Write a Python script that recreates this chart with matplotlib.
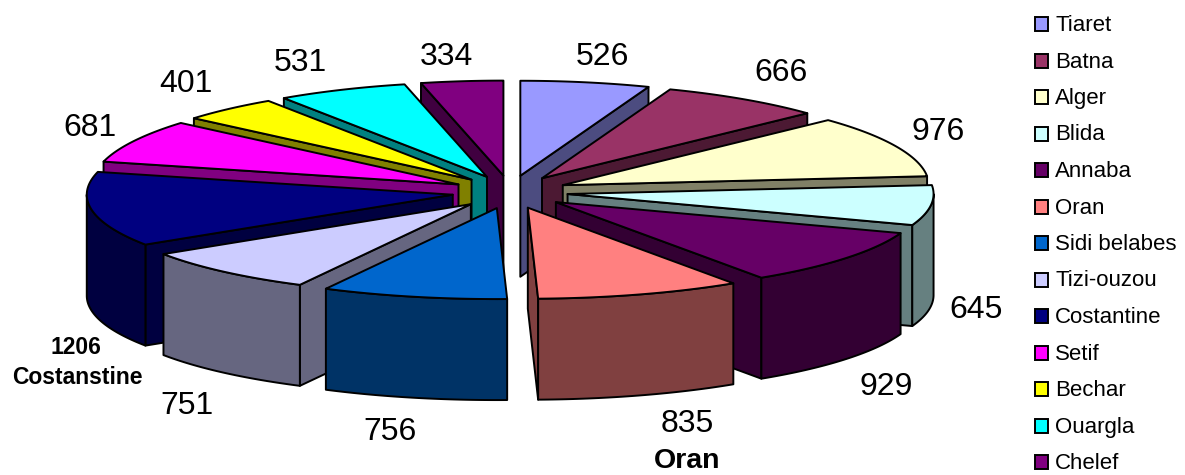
#!/usr/bin/env python
import numpy as np
import matplotlib
matplotlib.use("Agg")
import matplotlib.pyplot as plt

plt.rcParams["font.family"] = ["Liberation Sans", "DejaVu Sans"]

cities = ["Tiaret", "Batna", "Alger", "Blida", "Annaba", "Oran", "Sidi belabes",
          "Tizi-ouzou", "Costantine", "Setif", "Bechar", "Ouargla", "Chelef"]
values = [526, 666, 976, 645, 929, 835, 756, 751, 1206, 681, 401, 531, 334]
top_colors = ["#9999FF", "#993366", "#FFFFCC", "#CCFFFF", "#660066", "#FF8080", "#0066CC",
              "#CCCCFF", "#000080", "#FF00FF", "#FFFF00", "#00FFFF", "#800080"]
side_colors = ["#4C4C80", "#4C1933", "#808066", "#668080", "#330033", "#804040", "#003366",
               "#666680", "#000040", "#800080", "#808000", "#008080", "#400040"]
label_pos = [(602, 57), (781, 73), (938, 132), (976, 310), (886, 387), (687, 424), (390, 432),
             (187, 406), None, (90, 128), (186, 84), (300, 63), (446, 57)]

CX, CY = 510, 192     # pie centre in pixels
RX, RY = 366, 93      # top face ellipse
RY_TILT = 2           # back of the ellipse a bit taller than the front
EX, EY = 58, 16.5     # explosion
DEPTH = 101
EDGE = dict(edgecolor="black", linewidth=1.4, joinstyle="round")

fig = plt.figure(figsize=(11.85, 4.75), dpi=100)
ax = fig.add_axes([0, 0, 1, 1])
ax.set_xlim(0, 1185)
ax.set_ylim(475, 0)
ax.axis("off")

#----------------------------------------------------------------------
# Exploded 3D pie, painted from the back to the front
#----------------------------------------------------------------------
ends = np.cumsum(values) / np.sum(values) * 2 * np.pi
starts = np.concatenate(([0], ends[:-1]))
mids = (starts + ends) / 2


def rim(tip, a):
    return tip[0] + RX * np.sin(a), tip[1] - (RY + RY_TILT * np.cos(a)) * np.cos(a)


def draw_wall(tip, a, color):
    rx, ry = rim(tip, a)
    ax.fill([tip[0], rx, rx, tip[0]], [tip[1], ry, ry + DEPTH, tip[1] + DEPTH],
            facecolor=color, **EDGE)


for i in np.argsort(-np.cos(mids)):
    a1, a2 = starts[i], ends[i]
    tip = (CX + EX * np.sin(mids[i]), CY - EY * np.cos(mids[i]))

    # cut faces that look towards the viewer
    if np.sin(a1) < -1e-6:
        draw_wall(tip, a1, side_colors[i])
    if np.sin(a2) > 1e-6:
        draw_wall(tip, a2, side_colors[i])

    # outer wall, front half of the ellipse only
    lo, hi = max(a1, np.pi / 2), min(a2, 3 * np.pi / 2)
    if lo < hi:
        t = np.linspace(lo, hi, 60)
        x, y = rim(tip, t)
        ax.fill(np.concatenate((x, x[::-1])), np.concatenate((y, y[::-1] + DEPTH)),
                facecolor=side_colors[i], **EDGE)

    # top face
    t = np.linspace(a1, a2, 80)
    x, y = rim(tip, t)
    ax.fill(np.concatenate(([tip[0]], x)), np.concatenate(([tip[1]], y)),
            facecolor=top_colors[i], **EDGE)

#----------------------------------------------------------------------
# Value labels
#----------------------------------------------------------------------
for v, pos in zip(values, label_pos):
    if pos is not None:
        ax.text(pos[0], pos[1], str(v), fontsize=23, ha="center", va="center")

ax.text(76, 348, "1206", fontsize=16.5, fontweight="bold", ha="center", va="center")
ax.text(77, 378, "Costanstine", fontsize=16.5, fontweight="bold", ha="center", va="center")
ax.text(687, 461, "Oran", fontsize=20.5, fontweight="bold", ha="center", va="center")

#----------------------------------------------------------------------
# Legend
#----------------------------------------------------------------------
for i, name in enumerate(cities):
    y = 24 + i * 36.5
    ax.fill([1035, 1048, 1048, 1035], [y - 7, y - 7, y + 7, y + 7],
            facecolor=top_colors[i], edgecolor="black", linewidth=1.4)
    ax.text(1055, y + 1.5, name, fontsize=16, ha="left", va="center")

plt.savefig("out.png", dpi=100)
